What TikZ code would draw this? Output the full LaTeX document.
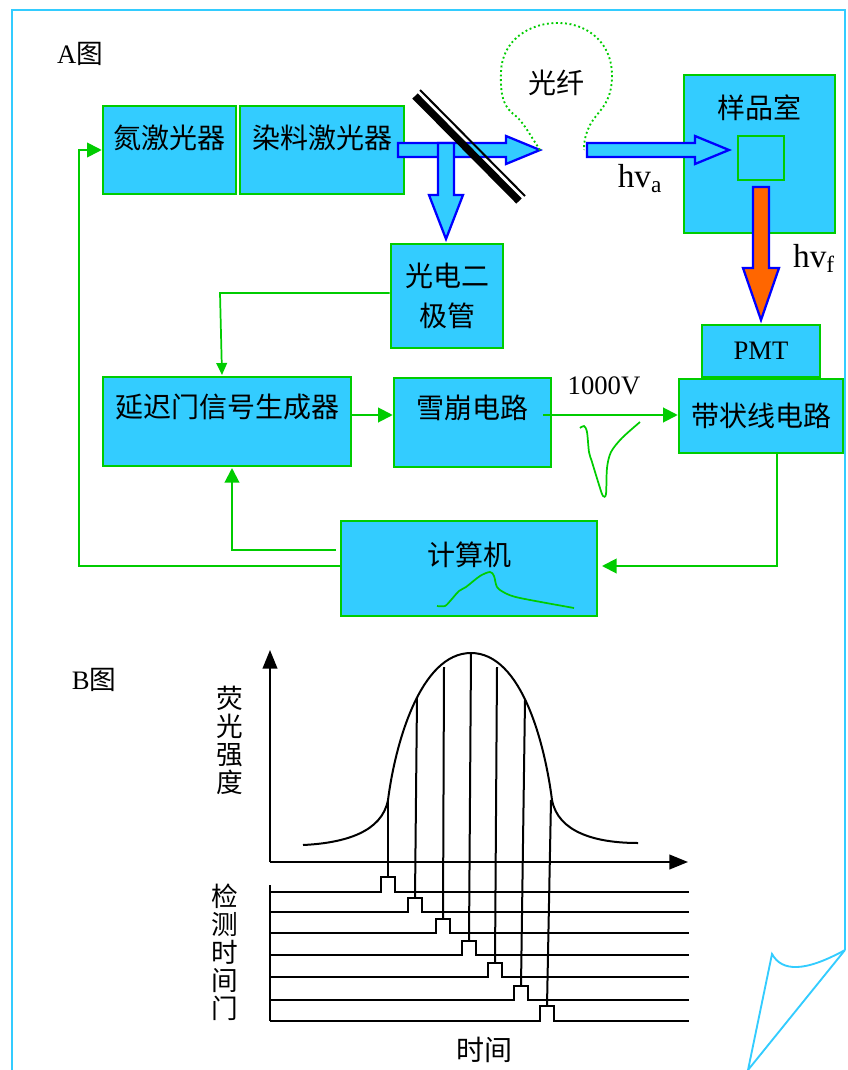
\documentclass[tikz,border=0pt]{standalone}
\usepackage{fontspec}
\usepackage{xcolor}
\setmainfont{Liberation Serif}
\newfontfamily\cjk{Noto Sans CJK SC}
\usetikzlibrary{arrows.meta,calc}
\definecolor{boxgreen}{RGB}{0,204,0}
\definecolor{boxblue}{RGB}{51,204,255}
\definecolor{beamblue}{RGB}{0,0,255}
\definecolor{beamorange}{RGB}{255,102,0}
\tikzset{
    box/.style={rectangle,draw=boxgreen,fill=boxblue,line width=1.9pt,inner sep=0pt,font=\fontsize{21}{30}\selectfont\cjk,align=center},
    raised/.style={text depth=#1},
    link/.style={draw=boxgreen,line width=1.5pt,-{Triangle[length=11pt,width=11pt]}},
    plainlink/.style={draw=boxgreen,line width=1.3pt},
    beam/.style={draw=beamblue,fill=boxblue,line width=1.7pt,line join=miter},
    thinblack/.style={draw=black,line width=1.5pt},
    cjklabel/.style={inner sep=0pt,font=\fontsize{21}{29}\selectfont\cjk,align=center},
    latinlabel/.style={inner sep=0pt,font=\fontsize{20}{24}\selectfont}
}
% block arrow: shaft start, shaft half width, head start, head half width, tip
\newcommand{\beamright}[6][beam]{\draw[#1] (#2,#3-7) -- (#4,#3-7) -- (#4,#3-14) -- (#5,#3) -- (#4,#3+14) -- (#4,#3+7) -- (#2,#3+7) -- cycle;}
\newcommand{\beamdown}[7][beam]{\draw[#1] (#2-#7,#3) -- (#2-#7,#4) -- (#2-#6,#4) -- (#2,#5) -- (#2+#6,#4) -- (#2+#7,#4) -- (#2+#7,#3) -- cycle;}
\begin{document}
\begin{tikzpicture}[x=0.75pt,y=-0.75pt]
    \useasboundingbox (0,0) rectangle (847,1070);
    % Page with folded corner
    \draw[boxblue,line width=1.4pt] (12,1070) -- (12,10) -- (845,10) -- (845,950);
    \draw[boxblue,line width=1.4pt] (845,950) -- (748,1070) -- (772,954) .. controls (782,972) and (805,972) .. (845,950);

    % Part A
    \node[latinlabel] (titleA) at (80,54) {A{\cjk 图}};
    \node[box,minimum width=133*0.75pt,minimum height=88*0.75pt,raised=20pt] (nitrogen) at (169.5,150) {氮激光器};
    \node[box,minimum width=164*0.75pt,minimum height=88*0.75pt,raised=20pt] (dye) at (322,150) {染料激光器};
    \node[box,minimum width=151*0.75pt,minimum height=158*0.75pt,raised=71pt] (sample) at (759.5,154) {样品室};
    \node[box,minimum width=46*0.75pt,minimum height=44*0.75pt] (cell) at (761,158) {};
    \node[box,minimum width=112*0.75pt,minimum height=104*0.75pt] (diode) at (447,296) {光电二\\极管};
    \node[box,minimum width=248*0.75pt,minimum height=89*0.75pt,raised=23pt] (delay) at (227,421.5) {延迟门信号生成器};
    \node[box,minimum width=157*0.75pt,minimum height=89*0.75pt,raised=23pt] (avalanche) at (472.5,422.5) {雪崩电路};
    \node[box,minimum width=118*0.75pt,minimum height=52*0.75pt,font=\fontsize{20}{24}\selectfont] (pmt) at (761,351) {PMT};
    \node[box,minimum width=164*0.75pt,minimum height=74*0.75pt] (strip) at (761,416) {带状线电路};
    \node[box,minimum width=256*0.75pt,minimum height=95*0.75pt,raised=22pt] (computer) at (469,568.5) {计算机};

    % Optical path
    \beamright{398}{150}{506}{540}{0}
    \beamdown{446}{143}{195}{239}{17}{8}
    \draw[black,line width=5.6pt] (415,96) -- (519,201);
    \draw[black,line width=1.5pt] (420,90) -- (525,196);
    \beamright{587}{150}{695}{729}{0}
    \beamdown[beam,fill=beamorange]{761}{187}{268}{320}{18}{8}
    \draw[boxgreen,line width=1.4pt,dotted] (540,150) .. controls (530,135) and (525,125) .. (517,117)
        .. controls (505,108) and (500,100) .. (501,72)
        .. controls (502,40) and (530,22) .. (560,23)
        .. controls (590,24) and (612,45) .. (612,75)
        .. controls (612,105) and (598,110) .. (590,125)
        .. controls (585,135) and (584,142) .. (584,150);
    \node[cjklabel] (fiber) at (556,83) {光纤};
    \node[inner sep=0pt,font=\fontsize{25}{30}\selectfont] (hva) at (640,179) {hv\textsubscript{a}};
    \node[inner sep=0pt,font=\fontsize{25}{30}\selectfont] (hvf) at (814,258) {hv\textsubscript{f}};

    % Signal path
    \coordinate (nitrogenrail) at (79,150);
    \coordinate (computerlow) at (341,566);
    \coordinate (computerhigh) at (336,550);
    \coordinate (delayin) at (232,468);
    \coordinate (diodetap) at (220,293);
    \coordinate (delaytop) at (222,375);
    \coordinate (pulseout) at (543,415);
    \coordinate (stripout) at (777,453);
    \coordinate (computerin) at (602,566);
    \draw[plainlink,-{Triangle[length=11pt,width=11pt]}] (computerlow) -| (nitrogenrail) -- (nitrogen.west);
    \draw[link] (computerhigh) -| (delayin);
    \draw[plainlink,-{Triangle[length=9pt,width=8pt]}] (diode.west |- diodetap) -- (diodetap) -- (delaytop);
    \draw[link] (delay.east |- pulseout) -- (avalanche.west |- pulseout);
    \draw[link] (pulseout) -- (strip.west |- pulseout);
    \draw[link] (stripout) |- (computerin);
    \node[latinlabel] (voltage) at (604,386) {1000V};
    % Pulse sketches
    \draw[plainlink] plot[smooth,tension=0.5] coordinates {(580,428) (584,426) (587,432) (589,452) (592,462) (600,488) (603,496) (606,494) (607,468) (611,452) (622,438) (640,422)};
    \draw[plainlink] plot[smooth,tension=0.5] coordinates {(437,606) (445,606) (451,600) (459,591) (466,587) (480,576) (490,572) (494,576) (497,587) (505,593) (520,598) (574,608)};

    % Part B
    \node[latinlabel] (titleB) at (94,680) {B{\cjk 图}};
    \coordinate (origin) at (270,862);
    \coordinate (yend) at (270,650);
    \coordinate (xend) at (688,862);
    \draw[thinblack,-{Triangle[length=14pt,width=11pt]}] (origin) -- (yend);
    \draw[thinblack,-{Triangle[length=14pt,width=11pt]}] (origin) -- (xend);
    \node[cjklabel,font=\fontsize{20}{21}\selectfont\cjk] (yaxis) at (230,740) {荧\\光\\强\\度};
    \node[cjklabel,font=\fontsize{20}{21}\selectfont\cjk] (gates) at (225,952) {检\\测\\时\\间\\门};
    \node[cjklabel] (xaxis) at (484,1050) {时间};
    % Fluorescence curve
    \draw[thinblack] (303,845) .. controls (345,843) and (382,832) .. (388,800)
        .. controls (395,745) and (420,653) .. (471,653)
        .. controls (522,653) and (545,745) .. (552,800)
        .. controls (558,832) and (595,843) .. (638,843);
    % Gate lines: baseline, pulse left edge, top, start of the drop on the curve
    \draw[thinblack] (270,885) -- (270,1021);
    \foreach \base/\left/\top/\fromx/\fromy in {892/381/877/388/800, 912/408/898/417/697, 933/436/919/444/667, 955/462/941/471/653, 977/488/963/497/667, 1000/514/986/525/700, 1021/540/1006/551/800} {
        \draw[thinblack] (270,\base) -- (\left,\base) -- (\left,\top) -- (\left+14,\top) -- (\left+14,\base) -- (689,\base);
        \draw[thinblack] (\fromx,\fromy) -- (\left+7,\top);
    }
\end{tikzpicture}
\end{document}
